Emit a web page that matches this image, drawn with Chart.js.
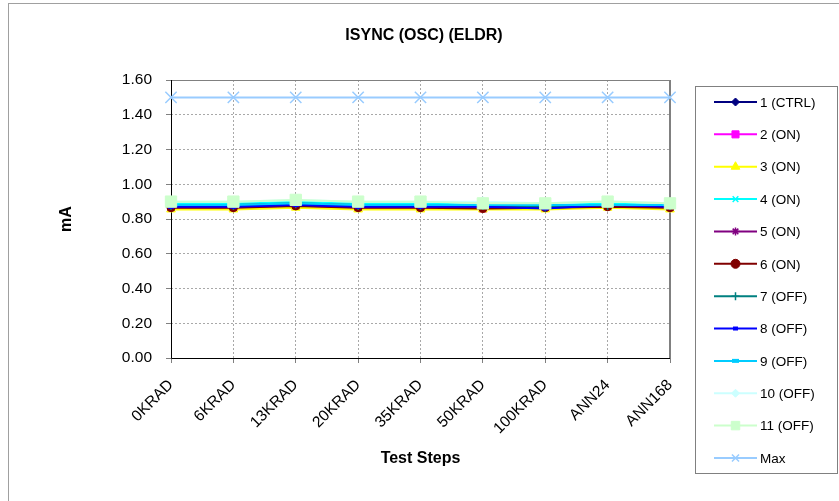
<!DOCTYPE html>
<html>
<head>
<meta charset="utf-8">
<script src="https://cdn.jsdelivr.net/npm/chart.js@4/dist/chart.umd.min.js"></script>
<style>
html,body{margin:0;padding:0;background:#fff;}
#wrap{width:839px;height:501px;position:relative;}
</style>
</head>
<body>
<div id="wrap"><canvas id="c" width="839" height="501"></canvas></div>
<script>
const chartTitle = 'ISYNC (OSC) (ELDR)';
const xTitle = 'Test Steps';
const yTitle = 'mA';
const categories = ['0KRAD','6KRAD','13KRAD','20KRAD','35KRAD','50KRAD','100KRAD','ANN24','ANN168'];
const seriesNames = ['1 (CTRL)','2 (ON)','3 (ON)','4 (ON)','5 (ON)','6 (ON)','7 (OFF)','8 (OFF)','9 (OFF)','10 (OFF)','11 (OFF)','Max'];
const s1  = [0.87,0.87,0.88,0.87,0.87,0.87,0.87,0.88,0.87];
const s2  = [0.865,0.865,0.875,0.865,0.865,0.86,0.865,0.875,0.865];
const s3  = [0.855,0.855,0.865,0.855,0.855,0.855,0.855,0.865,0.855];
const s4  = [0.89,0.89,0.90,0.89,0.89,0.88,0.88,0.89,0.88];
const s5  = [0.87,0.87,0.88,0.87,0.87,0.87,0.87,0.88,0.87];
const s6  = [0.865,0.865,0.875,0.865,0.865,0.86,0.865,0.87,0.865];
const s7  = [0.88,0.88,0.89,0.88,0.88,0.88,0.87,0.88,0.88];
const s8  = [0.87,0.87,0.88,0.87,0.87,0.87,0.86,0.88,0.87];
const s9  = [0.88,0.88,0.89,0.88,0.88,0.88,0.88,0.88,0.88];
const s10 = [0.90,0.90,0.91,0.90,0.90,0.90,0.89,0.90,0.89];
const s11 = [0.90,0.90,0.91,0.90,0.90,0.89,0.89,0.90,0.89];
const sMax = [1.50,1.50,1.50,1.50,1.50,1.50,1.50,1.50,1.50];
const yMin = 0, yMax = 1.6, yStep = 0.2;

const seriesValues = [s1,s2,s3,s4,s5,s6,s7,s8,s9,s10,s11,sMax];
const colors = ['#000080','#FF00FF','#FFFF00','#00FFFF','#800080','#800000','#008080','#0000FF','#00CCFF','#CCFFFF','#CCFFCC','#99CCFF'];
const styles = ['rectRot','rect','triangle','crossRot','star','circle','cross','line','line','rectRot','rect','crossRot'];
const radii  = [4,5,5,5,5,4,5,3,4,5,8,8];
const legendRadii = [4,5,5,4,4,4.5,4,2.5,3.5,4,6,5];

const FONT = "'Liberation Sans', Arial, sans-serif";

function markerWidth(st){
  if (st==='line') return 4;
  if (st==='crossRot'||st==='cross'||st==='star') return 1.5;
  return 1;
}

const datasets = seriesValues.map((vals,i)=>({
  label: seriesNames[i],
  data: vals,
  borderColor: colors[i],
  backgroundColor: colors[i],
  pointBackgroundColor: colors[i],
  pointBorderColor: colors[i],
  pointStyle: styles[i],
  pointRadius: radii[i],
  pointBorderWidth: markerWidth(styles[i]),
  borderWidth: 2,
  tension: 0,
  fill: false,
  order: seriesValues.length - i
}));

const decorPlugin = {
  id: 'decor',
  beforeDraw(chart){
    const ctx = chart.ctx;
    ctx.save();
    ctx.fillStyle = '#fff';
    ctx.fillRect(0,0,chart.width,chart.height);
    ctx.strokeStyle = '#a0a0a0';
    ctx.lineWidth = 1;
    ctx.strokeRect(8.5,3.5,chart.width+20,chart.height+20);
    ctx.restore();
  },
  beforeDatasetsDraw(chart){
    const ctx = chart.ctx, a = chart.chartArea;
    ctx.save();
    ctx.setLineDash([]);
    ctx.strokeStyle = '#808080';
    ctx.lineWidth = 1;
    ctx.beginPath();
    ctx.moveTo(a.left, a.top+0.5);
    ctx.lineTo(a.right, a.top+0.5);
    ctx.stroke();
    ctx.lineWidth = 2;
    ctx.beginPath();
    ctx.moveTo(a.right, a.top);
    ctx.lineTo(a.right, a.bottom);
    ctx.stroke();
    ctx.strokeStyle = '#000';
    ctx.lineWidth = 1;
    ctx.beginPath();
    ctx.moveTo(a.left+0.5, a.top);
    ctx.lineTo(a.left+0.5, a.bottom+0.5);
    ctx.lineTo(a.right, a.bottom+0.5);
    ctx.stroke();
    ctx.restore();
  },
  afterDraw(chart){
    const ctx = chart.ctx;
    ctx.save();
    ctx.setLineDash([]);
    // title
    ctx.fillStyle = '#000';
    ctx.font = "bold 16px " + FONT;
    ctx.textAlign = 'center';
    ctx.textBaseline = 'middle';
    ctx.fillText(chartTitle, 424, 36);
    // legend box
    ctx.strokeStyle = '#808080';
    ctx.lineWidth = 1;
    ctx.strokeRect(695.5, 86.5, 142, 387);
    const y0 = 102, dy = 32.36;
    chart.data.datasets.forEach((ds,i)=>{
      const y = y0 + i*dy;
      ctx.strokeStyle = ds.borderColor;
      ctx.lineWidth = 2;
      ctx.beginPath();
      ctx.moveTo(714, y);
      ctx.lineTo(757, y);
      ctx.stroke();
      ctx.fillStyle = ds.pointBackgroundColor;
      ctx.strokeStyle = ds.pointBorderColor;
      ctx.lineWidth = ds.pointBorderWidth;
      Chart.helpers.drawPoint(ctx, {pointStyle: ds.pointStyle, rotation: 0, radius: legendRadii[i], borderWidth: ds.pointBorderWidth}, 735.5, y);
      ctx.fillStyle = '#000';
      ctx.font = "13.5px " + FONT;
      ctx.textAlign = 'left';
      ctx.textBaseline = 'middle';
      ctx.fillText(ds.label, 760, y+1);
    });
    ctx.restore();
  }
};

new Chart(document.getElementById('c'), {
  type: 'line',
  data: { labels: categories, datasets },
  plugins: [decorPlugin],
  options: {
    responsive: false,
    animation: false,
    devicePixelRatio: 1,
    layout: { padding: { left: 0, top: 80, right: 169, bottom: 0 } },
    plugins: { legend: { display: false }, title: { display: false }, tooltip: { enabled: false } },
    scales: {
      x: {
        offset: false,
        afterFit(scale){ scale.height = 143; },
        border: { display: false, dash: [2,2] },
        grid: { color: '#a8a8a8', lineWidth: 1, tickLength: 5, tickColor: '#808080', tickBorderDash: [], drawTicks: true },
        ticks: { minRotation: 45, maxRotation: 45, autoSkip: false, padding: 13, color: '#000', font: { family: FONT, size: 15.5 } },
        title: { display: true, text: xTitle, color: '#000', font: { family: FONT, size: 16, weight: 'bold' }, padding: { top: 0, bottom: 33 } }
      },
      y: {
        min: yMin, max: yMax,
        afterFit(scale){ scale.width = 171; },
        border: { display: false, dash: [2,2] },
        grid: { color: '#a8a8a8', lineWidth: 1, tickLength: 5, tickColor: '#808080', tickBorderDash: [] },
        ticks: { stepSize: yStep, padding: 14, color: '#000', font: { family: FONT, size: 15.5 }, callback: v => Number(v).toFixed(2) },
        title: { display: true, text: yTitle, color: '#000', font: { family: FONT, size: 16, weight: 'bold' }, padding: { top: 57, bottom: 0 } }
      }
    }
  }
});
</script>
</body>
</html>
